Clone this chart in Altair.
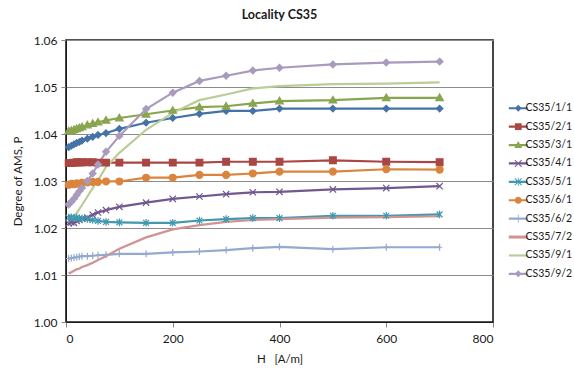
import altair as alt
import pandas as pd

H = [5, 10, 15, 20, 25, 30, 40, 50, 60, 75, 100, 150, 200, 250, 300, 350, 400, 500, 600, 700]

series_names = ["CS35/1/1", "CS35/2/1", "CS35/3/1", "CS35/4/1", "CS35/5/1",
                "CS35/6/1", "CS35/6/2", "CS35/7/2", "CS35/9/1", "CS35/9/2"]
colors = ["#4572A7", "#AA4643", "#89A54E", "#71588F", "#4198AF",
          "#DB843D", "#93A9CF", "#D19392", "#B9CD96", "#A99BBD"]

s11 = [1.0372, 1.0375, 1.0378, 1.0381, 1.0383, 1.0386, 1.0390, 1.0394, 1.0398, 1.0402, 1.0411, 1.0424, 1.0434, 1.0443, 1.0449, 1.0449, 1.0454, 1.0454, 1.0454, 1.0454]
s21 = [1.0338, 1.0338, 1.0339, 1.0340, 1.0339, 1.0340, 1.0340, 1.0340, 1.0339, 1.0339, 1.0339, 1.0339, 1.0339, 1.0339, 1.0341, 1.0341, 1.0341, 1.0344, 1.0341, 1.0340]
s31 = [1.0406, 1.0407, 1.0409, 1.0411, 1.0413, 1.0415, 1.0419, 1.0422, 1.0425, 1.0429, 1.0434, 1.0442, 1.0450, 1.0457, 1.0459, 1.0465, 1.0470, 1.0472, 1.0477, 1.0477]
s41 = [1.0210, 1.0212, 1.0211, 1.0215, 1.0217, 1.0220, 1.0222, 1.0228, 1.0233, 1.0238, 1.0245, 1.0254, 1.0262, 1.0267, 1.0272, 1.0276, 1.0277, 1.0282, 1.0285, 1.0289]
s51 = [1.0222, 1.0223, 1.0221, 1.0222, 1.0220, 1.0220, 1.0219, 1.0217, 1.0215, 1.0213, 1.0212, 1.0211, 1.0211, 1.0216, 1.0219, 1.0221, 1.0221, 1.0226, 1.0226, 1.0229]
s61 = [1.0292, 1.0294, 1.0293, 1.0295, 1.0294, 1.0296, 1.0297, 1.0298, 1.0298, 1.0299, 1.0299, 1.0307, 1.0307, 1.0313, 1.0313, 1.0316, 1.0320, 1.0320, 1.0325, 1.0324]
s62 = [1.0135, 1.0136, 1.0137, 1.0138, 1.0139, 1.0140, 1.0140, 1.0141, 1.0142, 1.0143, 1.0145, 1.0145, 1.0148, 1.0150, 1.0153, 1.0157, 1.0160, 1.0155, 1.0159, 1.0159]
s72 = [1.0103, 1.0106, 1.0109, 1.0112, 1.0114, 1.0117, 1.0121, 1.0126, 1.0132, 1.0140, 1.0156, 1.0180, 1.0197, 1.0206, 1.0213, 1.0217, 1.0219, 1.0222, 1.0223, 1.0225]
s91 = [1.0213, 1.0218, 1.0225, 1.0232, 1.0240, 1.0249, 1.0267, 1.0285, 1.0302, 1.0330, 1.0360, 1.0409, 1.0445, 1.0472, 1.0484, 1.0497, 1.0502, 1.0506, 1.0507, 1.0510]
s92 = [1.0250, 1.0256, 1.0262, 1.0270, 1.0278, 1.0285, 1.0300, 1.0316, 1.0335, 1.0362, 1.0396, 1.0453, 1.0488, 1.0513, 1.0524, 1.0535, 1.0541, 1.0548, 1.0552, 1.0554]

series_values = [s11, s21, s31, s41, s51, s61, s62, s72, s91, s92]

x_ticks = [0, 200, 400, 600, 800]
y_ticks = [1.00, 1.01, 1.02, 1.03, 1.04, 1.05, 1.06]

# plot marker shapes (None = no marker)
DIAMOND = "M0,-1L1,0L0,1L-1,0Z"
SQUARE = "M-1,-1H1V1H-1Z"
TRIANGLE = "M0,-1.1L1.1,0.8H-1.1Z"
XMARK = "M-1,-1L1,1M-1,1L1,-1"
STAR = "M-1,-1L1,1M-1,1L1,-1M0,-1.3L0,1.3"
PLUS = "M0,-1.2L0,1.2M-0.9,0L0.9,0"
marker_paths = [DIAMOND, SQUARE, TRIANGLE, XMARK, STAR, "circle", PLUS, None, None, DIAMOND]
marker_sizes = [42, 45, 48, 40, 34, 48, 34, 0, 0, 46]

# legend symbols: line segment + filled marker (all filled shapes, same winding)
LINE = "M-2.1,-0.24H2.1V0.24H-2.1Z"
THICK = "M-2.1,-0.34H2.1V0.34H-2.1Z"
L_DIAMOND = "M0,-0.78L0.78,0L0,0.78L-0.78,0Z"
L_SQUARE = "M-0.75,-0.75H0.75V0.75H-0.75Z"
L_TRIANGLE = "M0,-0.88L0.88,0.64H-0.88Z"
L_X = "M-0.67,-0.83L0.83,0.67L0.67,0.83L-0.83,-0.67Z M-0.83,0.67L0.67,-0.83L0.83,-0.67L-0.67,0.83Z"
L_VBAR = "M-0.09,-0.9H0.09V0.9H-0.09Z"
L_CIRCLE = "M-0.78,0A0.78,0.78 0 1,1 0.78,0A0.78,0.78 0 1,1 -0.78,0Z"
legend_paths = [
    LINE + " " + L_DIAMOND,
    LINE + " " + L_SQUARE,
    LINE + " " + L_TRIANGLE,
    LINE + " " + L_X,
    LINE + " " + L_X + " " + L_VBAR,
    LINE + " " + L_CIRCLE,
    LINE + " " + L_VBAR,
    THICK,
    LINE,
    LINE + " " + L_DIAMOND,
]

rows = []
for name, vals in zip(series_names, series_values):
    for h, v in zip(H, vals):
        rows.append({"series": name, "H": h, "P": v})
df = pd.DataFrame(rows)

FONT = "Lato"
TXT = "#1a1a1a"

xenc = alt.X("H:Q", scale=alt.Scale(domain=[0, 800], nice=False),
             axis=alt.Axis(values=x_ticks, title="H\u00a0\u00a0\u00a0[A/m]", grid=False,
                           labelFontSize=12, titleFontSize=11.5, titleFontWeight="normal",
                           labelPadding=6, tickSize=5, titleX=213.5, titleY=37,
                           titleBaseline="middle", labelColor=TXT, titleColor=TXT,
                           tickColor="#868686", domainColor="#1a1a1a"))
yenc = alt.Y("P:Q", scale=alt.Scale(domain=[1.0, 1.06], nice=False, zero=False),
             axis=alt.Axis(values=y_ticks, format=".2f", title="Degree of AMS, P",
                           grid=True, gridColor="#8c8c8c", gridWidth=1,
                           labelFontSize=12, titleFontSize=11.5, titleFontWeight="normal",
                           labelPadding=4, tickSize=5, titleX=-48, titleY=141,
                           titleBaseline="middle", labelColor=TXT, titleColor=TXT,
                           tickColor="#868686", domainColor="#1a1a1a"))

leg = dict(orient="none", legendX=447, legendY=63, title=None, symbolSize=81,
           labelFontSize=10.5, labelFont=FONT, labelColor=TXT, labelOffset=2,
           rowPadding=7.4, symbolStrokeWidth=0, symbolOpacity=1)

# legend-only layer: its marks have zero size, so only the legend shows
legend_layer = (
    alt.Chart(df)
    .mark_point(filled=True, strokeWidth=0, size=0, opacity=1)
    .encode(
        x=xenc, y=yenc,
        color=alt.Color("series:N", scale=alt.Scale(domain=series_names, range=colors), legend=alt.Legend(**leg)),
        shape=alt.Shape("series:N", scale=alt.Scale(domain=series_names, range=legend_paths), legend=alt.Legend(**leg)),
    )
)

layers = [legend_layer]
for name, col in zip(series_names, colors):
    layers.append(
        alt.Chart(df).transform_filter(alt.datum.series == name)
        .mark_line(strokeWidth=2.2, color=col)
        .encode(x=xenc, y=yenc)
    )
for name, col, path, sz in zip(series_names, colors, marker_paths, marker_sizes):
    if path is None:
        continue
    layers.append(
        alt.Chart(df).transform_filter(alt.datum.series == name)
        .mark_point(shape=path, size=sz, filled=True, fill=col, stroke=col,
                    strokeWidth=1.2, opacity=1)
        .encode(x=xenc, y=yenc)
    )

chart = (
    alt.layer(*layers)
    .properties(
        width=427, height=282,
        title=alt.TitleParams("Locality CS35", fontSize=12.5, fontWeight="bold", font=FONT,
                              color=TXT, anchor="middle", offset=13),
        padding={"left": 66, "top": 40, "right": 81, "bottom": 52},
        autosize="none",
    )
    .configure(font=FONT)
    .configure_view(stroke="#1a1a1a", strokeWidth=1.6)
    .configure_axis(labelFont=FONT, titleFont=FONT)
)

chart.save("out.html", embed_options={"renderer": "svg", "actions": False})
